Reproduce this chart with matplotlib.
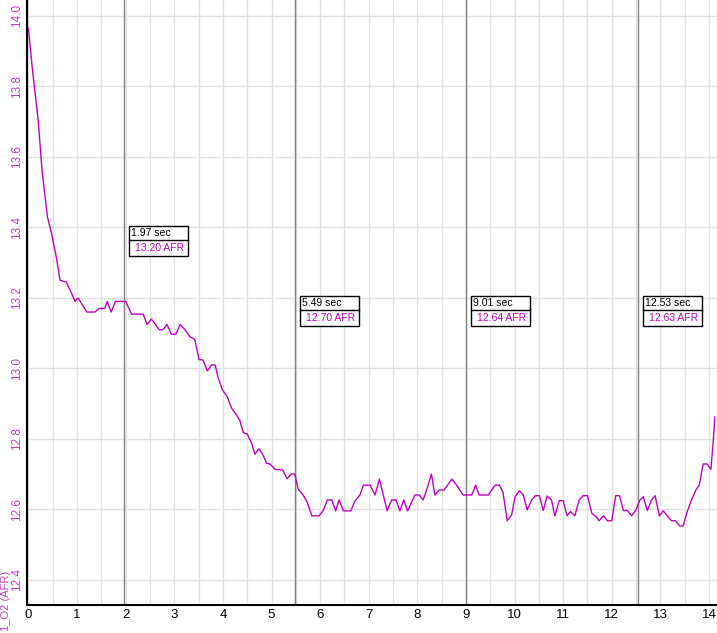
"""AFR trace with four cursor readouts (sec / AFR boxes)."""

import matplotlib
matplotlib.use("Agg")
import matplotlib.pyplot as plt
from matplotlib.patches import Rectangle
from matplotlib.ticker import MultipleLocator

# time (s) and AFR samples
time_s = [
    0.00, 0.08, 0.13, 0.20, 0.28, 0.39, 0.48, 0.58, 0.65, 0.78,
    0.96, 1.02, 1.20, 1.37, 1.45, 1.57, 1.62, 1.70, 1.79, 1.95,
    2.00, 2.12, 2.36, 2.44, 2.53, 2.69, 2.77, 2.85, 2.94, 3.03,
    3.12, 3.22, 3.32, 3.42, 3.51, 3.59, 3.68, 3.77, 3.84, 3.90,
    3.99, 4.09, 4.18, 4.28, 4.35, 4.42, 4.50, 4.59, 4.66, 4.74,
    4.81, 4.90, 4.97, 5.07, 5.23, 5.32, 5.41, 5.48, 5.55, 5.65,
    5.73, 5.83, 5.98, 6.06, 6.15, 6.24, 6.32, 6.39, 6.48, 6.63,
    6.72, 6.82, 6.89, 7.03, 7.13, 7.22, 7.38, 7.47, 7.56, 7.64,
    7.72, 7.80, 7.95, 8.04, 8.12, 8.19, 8.29, 8.36, 8.45, 8.55,
    8.71, 8.81, 8.94, 9.12, 9.20, 9.27, 9.46, 9.60, 9.69, 9.76,
    9.85, 9.94, 10.01, 10.10, 10.18, 10.26, 10.35, 10.43, 10.51, 10.59,
    10.67, 10.76, 10.83, 10.92, 11.00, 11.08, 11.15, 11.24, 11.33, 11.41,
    11.50, 11.59, 11.69, 11.74, 11.83, 11.91, 12.00, 12.08, 12.16, 12.24,
    12.32, 12.41, 12.50, 12.58, 12.65, 12.73, 12.82, 12.89, 12.98, 13.06,
    13.14, 13.23, 13.31, 13.40, 13.47, 13.54, 13.64, 13.73, 13.80, 13.88,
    13.96, 14.04, 14.09, 14.12,
]
afr = [
    13.965, 13.85, 13.79, 13.705, 13.56, 13.43, 13.38, 13.31, 13.25, 13.245,
    13.19, 13.20, 13.16, 13.16, 13.17, 13.17, 13.19, 13.16, 13.19, 13.19,
    13.19, 13.154, 13.154, 13.125, 13.14, 13.11, 13.11, 13.125, 13.097, 13.097,
    13.125, 13.11, 13.09, 13.083, 13.025, 13.024, 12.993, 13.01, 13.01, 12.975,
    12.939, 12.92, 12.887, 12.868, 12.852, 12.818, 12.814, 12.788, 12.757, 12.772,
    12.759, 12.731, 12.729, 12.714, 12.712, 12.687, 12.701, 12.70, 12.657, 12.641,
    12.622, 12.582, 12.582, 12.596, 12.627, 12.627, 12.596, 12.627, 12.596, 12.596,
    12.625, 12.641, 12.669, 12.669, 12.641, 12.686, 12.596, 12.627, 12.627, 12.596,
    12.627, 12.596, 12.641, 12.641, 12.627, 12.655, 12.70, 12.641, 12.655, 12.655,
    12.686, 12.669, 12.641, 12.641, 12.669, 12.641, 12.641, 12.669, 12.669, 12.65,
    12.568, 12.584, 12.636, 12.653, 12.641, 12.599, 12.627, 12.639, 12.639, 12.597,
    12.638, 12.627, 12.582, 12.625, 12.625, 12.582, 12.594, 12.582, 12.627, 12.639,
    12.639, 12.589, 12.578, 12.568, 12.582, 12.568, 12.568, 12.639, 12.639, 12.597,
    12.597, 12.582, 12.599, 12.627, 12.636, 12.597, 12.627, 12.639, 12.582, 12.596,
    12.582, 12.568, 12.568, 12.553, 12.553, 12.589, 12.627, 12.655, 12.669, 12.729,
    12.729, 12.714, 12.797, 12.862,
]

# cursor readouts
cursor_sec = [1.97, 5.49, 9.01, 12.53]
cursor_afr = [13.20, 12.70, 12.64, 12.63]
box_top = [13.404, 13.206, 13.206, 13.206]

x_ticks = list(range(0, 15))
y_ticks = [12.4, 12.6, 12.8, 13.0, 13.2, 13.4, 13.6, 13.8, 14.0]

TRACE = "#c000c0"
LABEL = "#c040c0"
GRID = "#e2e2e2"

plt.rcParams["font.family"] = ["Liberation Sans", "DejaVu Sans"]

fig = plt.figure(figsize=(7.17, 6.33), dpi=100)
ax = fig.add_axes([27 / 717, 28 / 633, 1 - 27 / 717, 1 - 28 / 633])

ax.set_xlim(-0.03, 14.165)
ax.set_ylim(12.329, 14.045)

ax.xaxis.set_major_locator(MultipleLocator(1))
ax.xaxis.set_minor_locator(MultipleLocator(0.5))
ax.set_xticks(x_ticks)
ax.set_yticks(y_ticks)
ax.set_yticklabels([f"{v:.1f}" for v in y_ticks], rotation=90, va="center", color=LABEL)
ax.grid(True, which="both", axis="x", color=GRID, lw=1.0)
ax.grid(True, which="major", axis="y", color=GRID, lw=1.0)
ax.set_axisbelow(True)
ax.tick_params(axis="both", which="both", length=0)
ax.tick_params(axis="x", labelsize=9.5, pad=3, colors="black")
ax.tick_params(axis="y", labelsize=8.5, pad=3)
ax.tick_params(axis="y", labelcolor=LABEL)

for side in ("top", "right"):
    ax.spines[side].set_visible(False)
for side in ("left", "bottom"):
    ax.spines[side].set_linewidth(1.5)
    ax.spines[side].set_color("black")

# cursor lines
for t in cursor_sec:
    ax.axvline(t, color="#808080", lw=1.0, zorder=2)

ax.plot(time_s, afr, color=TRACE, lw=1.0, zorder=3)

# readout boxes (sizes in pixels converted to data units)
px_x = (14.165 + 0.03) / 690.0
px_y = (14.045 - 12.329) / 605.0
box_w = 59 * px_x
row_h = 14 * px_y
box_h = 30 * px_y
for t, a, top in zip(cursor_sec, cursor_afr, box_top):
    x0 = t + 5 * px_x
    ax.add_patch(Rectangle((x0, top - box_h), box_w, box_h, facecolor="white",
                           edgecolor="black", lw=1.0, zorder=5))
    ax.plot([x0, x0 + box_w], [top - row_h, top - row_h], color="black", lw=1.0, zorder=6)
    ax.text(x0 + 2 * px_x, top - row_h / 2, f"{t:.2f} sec", fontsize=7.5,
            color="black", va="center", ha="left", zorder=7)
    ax.text(x0 + 6 * px_x, top - row_h - (box_h - row_h) / 2, f"{a:.2f} AFR",
            fontsize=7.5, color=TRACE, va="center", ha="left", zorder=7)

fig.text(6 / 717, 2 / 633, "1_O2 (AFR)", rotation=90, color=LABEL,
         fontsize=8, ha="center", va="bottom")

fig.savefig("out.png", dpi=100)
